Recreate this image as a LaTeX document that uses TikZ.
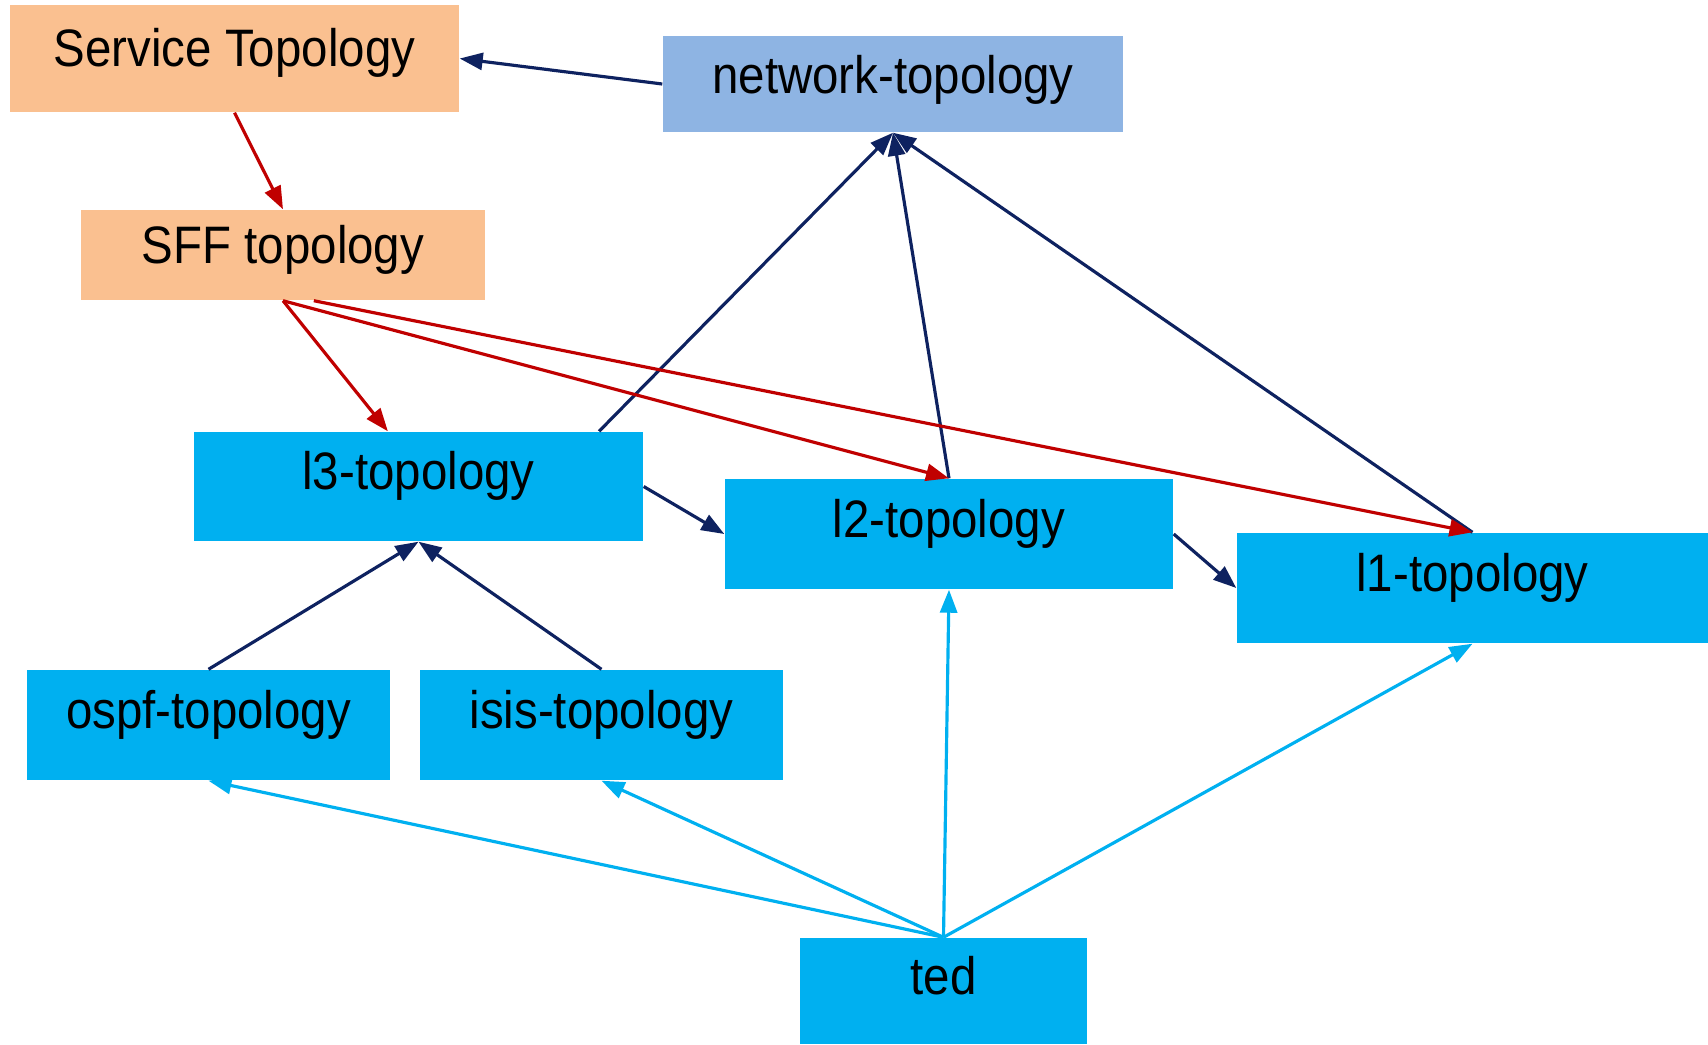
\documentclass[tikz,border=0pt]{standalone}
\usepackage{fontspec}
\setmainfont{Liberation Sans}[FakeStretch=0.9]
\usepackage{xcolor}
\usepackage{tikz}
\usetikzlibrary{shapes,arrows.meta,positioning,calc}

\definecolor{svcorange}{HTML}{FAC090}
\definecolor{netblue}{HTML}{8EB4E3}
\definecolor{topocyan}{HTML}{00B0F0}
\definecolor{linknavy}{HTML}{0E2260}
\definecolor{linkred}{HTML}{C00000}

\begin{document}
\begin{tikzpicture}[
        box/.style={rectangle, inner sep=0pt, text height=3.8mm, text depth=3.2mm, align=center, font=\fontsize{15}{18}\selectfont},
        svcbox/.style={box, fill=svcorange, text height=4.3mm, text depth=2.7mm},
        netbox/.style={box, fill=netblue},
        topobox/.style={box, fill=topocyan},
        navyarrow/.style={-{Triangle[length=2.3mm, width=1.7mm]}, line width=0.9pt, linknavy},
        redarrow/.style={-{Triangle[length=2.3mm, width=1.7mm]}, line width=0.9pt, linkred},
        cyanarrow/.style={-{Triangle[length=2.3mm, width=1.7mm]}, line width=0.9pt, topocyan}]
        \useasboundingbox (0,0) rectangle (17.08,-10.44);

        % Service layer
        \node (svc) [svcbox, minimum width=4.49cm, minimum height=1.07cm] at (2.345,-0.585) {Service Topology};
        \node (sff) [svcbox, minimum width=4.04cm, minimum height=0.90cm] at (2.83,-2.55) {SFF topology};
        \node (net) [netbox, minimum width=4.60cm, minimum height=0.96cm, text height=4.3mm, text depth=2.5mm] at (8.93,-0.84) {network-topology};

        % Topologies
        \node (l3) [topobox, minimum width=4.49cm, minimum height=1.09cm] at (4.185,-4.865) {l3-topology};
        \node (l2) [topobox, minimum width=4.48cm, minimum height=1.10cm] at (9.49,-5.34) {l2-topology};
        \node (l1) [topobox, minimum width=4.71cm, minimum height=1.10cm] at (14.725,-5.88) {l1-topology};
        \node (ospf) [topobox, minimum width=3.63cm, minimum height=1.10cm] at (2.085,-7.25) {ospf-topology};
        \node (isis) [topobox, minimum width=3.63cm, minimum height=1.10cm] at (6.015,-7.25) {isis-topology};
        \node (ted) [topobox, minimum width=2.87cm, minimum height=1.06cm] at (9.435,-9.91) {ted};

        % Navy links
        \draw[navyarrow] (net.west) -- (svc.east);
        \draw[navyarrow] (l3.17) -- (net.south);
        \draw[navyarrow] (l2.north) -- (net.south);
        \draw[navyarrow] (l1.north) -- (net.south);
        \draw[navyarrow] (l3.east) -- (l2.west);
        \draw[navyarrow] (l2.east) -- (l1.west);
        \draw[navyarrow] (ospf.north) -- (l3.south);
        \draw[navyarrow] (isis.north) -- (l3.south);

        % Red links
        \draw[redarrow] (svc.south) -- (sff.north);
        \draw[redarrow] (sff.south) -- (l3.119);
        \draw[redarrow] (sff.south) -- (l2.north);
        \draw[redarrow] (sff.-56) -- (l1.north);

        % Cyan links
        \draw[cyanarrow] (ted.north) -- (ospf.south);
        \draw[cyanarrow] (ted.north) -- (isis.south);
        \draw[cyanarrow] (ted.north) -- (l2.south);
        \draw[cyanarrow] (ted.north) -- (l1.south);
    \end{tikzpicture}
\end{document}
